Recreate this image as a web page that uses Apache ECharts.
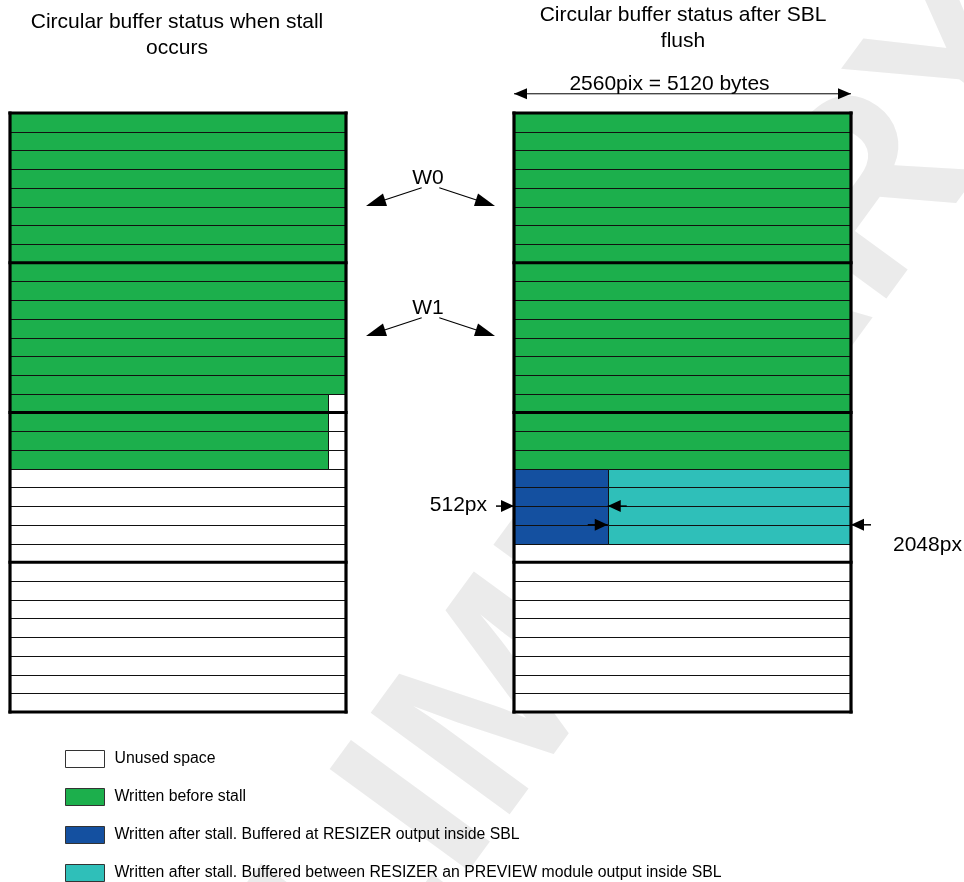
<!DOCTYPE html>
<html><head><meta charset="utf-8">
<script src="https://cdn.jsdelivr.net/npm/echarts@6/dist/echarts.min.js"></script>
<style>html,body{margin:0;padding:0;background:#fff}#c{width:964px;height:882px}</style>
</head><body><div id="c"></div>
<script>
// ---------------- data ----------------
const bufferWidthPix = 2560;            // one buffer line = 2560 pix = 5120 bytes
const rowCount = 32;
const sectionBreaks = [0, 8, 16, 24, 32];

// Left buffer: status when stall occurs (pixels written per line)
const leftWritten = [2560,2560,2560,2560,2560,2560,2560,2560,
                     2560,2560,2560,2560,2560,2560,2560,2420,
                     2420,2420,2420,0,0,0,0,0,
                     0,0,0,0,0,0,0,0];

// Right buffer: status after SBL flush
const rightWritten = [2560,2560,2560,2560,2560,2560,2560,2560,
                      2560,2560,2560,2560,2560,2560,2560,2560,
                      2560,2560,2560,0,0,0,0,0,
                      0,0,0,0,0,0,0,0];
const rightResizer = [0,0,0,0,0,0,0,0,
                      0,0,0,0,0,0,0,0,
                      0,0,0,712,712,712,712,0,
                      0,0,0,0,0,0,0,0];
const rightPreview = [0,0,0,0,0,0,0,0,
                      0,0,0,0,0,0,0,0,
                      0,0,0,1848,1848,1848,1848,0,
                      0,0,0,0,0,0,0,0];

const titleLeft = 'Circular buffer status when stall\noccurs';
const titleRight = 'Circular buffer status after SBL\nflush';
const widthLabel = '2560pix = 5120 bytes';
const resizerLabel = '512px';
const previewLabel = '2048px';
const windowLabels = ['W0', 'W1'];
const legendNames = [
  'Unused space',
  'Written before stall',
  'Written after stall. Buffered at RESIZER output inside SBL',
  'Written after stall. Buffered between RESIZER an PREVIEW module output inside SBL'
];
const keys = ['unused', 'written', 'resizer', 'preview'];
const colors = { unused: '#ffffff', written: '#1caf4c', resizer: '#1450a0', preview: '#2fbfb9' };

// ---------------- helpers ----------------
const FONT = '"Liberation Sans", Arial, Helvetica, sans-serif';
const LABEL_SIZE = 21;

function segments(written, resizer, preview) {
  const out = { unused: [], written: [], resizer: [], preview: [] };
  written.forEach((g, i) => {
    let x = 0;
    const r = resizer ? resizer[i] : 0;
    const p = preview ? preview[i] : 0;
    if (g > 0) { out.written.push([x, x + g, i]); x += g; }
    if (r > 0) { out.resizer.push([x, x + r, i]); x += r; }
    if (p > 0) { out.preview.push([x, x + p, i]); x += p; }
    if (x < bufferWidthPix) out.unused.push([x, bufferWidthPix, i]);
  });
  return out;
}

function cellRenderer(color) {
  return function (params, api) {
    const p0 = api.coord([api.value(0), api.value(2)]);
    const p1 = api.coord([api.value(1), api.value(2) + 1]);
    const x0 = Math.round(p0[0]) + 0.5, y0 = Math.round(p0[1]) + 0.5;
    const x1 = Math.round(p1[0]) + 0.5, y1 = Math.round(p1[1]) + 0.5;
    return {
      type: 'rect',
      shape: { x: x0, y: y0, width: x1 - x0, height: y1 - y0 },
      style: { fill: color, stroke: '#111', lineWidth: 1 }
    };
  };
}

function head(tx, ty, fx, fy, len, hw) {
  const dx = tx - fx, dy = ty - fy, d = Math.hypot(dx, dy);
  const ux = dx / d, uy = dy / d;
  const bx = tx - ux * len, by = ty - uy * len;
  return { type: 'polygon', shape: { points: [[tx, ty], [bx - uy * hw, by + ux * hw], [bx + uy * hw, by - ux * hw]] },
           style: { fill: '#000' } };
}
function seg(x1, y1, x2, y2, w) {
  return { type: 'line', shape: { x1, y1, x2, y2 }, style: { stroke: '#000', lineWidth: w || 1 } };
}
function txt(x, y, text, align, size) {
  return { type: 'text', x, y, style: { text, fill: '#000', fontSize: size || LABEL_SIZE, fontFamily: FONT,
           align: align || 'center', verticalAlign: 'middle' } };
}

// ---------------- series ----------------
const buffers = [
  { axis: 0, seg: segments(leftWritten) },
  { axis: 1, seg: segments(rightWritten, rightResizer, rightPreview) }
];

const series = [];
buffers.forEach(b => {
  keys.forEach((k, ki) => {
    if (!b.seg[k].length) return;
    series.push({
      type: 'custom', name: legendNames[ki], xAxisIndex: b.axis, yAxisIndex: b.axis,
      data: b.seg[k], renderItem: cellRenderer(colors[k]), itemStyle: { color: colors[k] },
      clip: false, z: 2, silent: true
    });
  });
  // thick section separators
  series.push({
    type: 'custom', xAxisIndex: b.axis, yAxisIndex: b.axis, z: 3, silent: true, clip: false,
    data: sectionBreaks.map(v => [v]),
    renderItem: function (params, api) {
      const a = api.coord([0, api.value(0)]), c = api.coord([bufferWidthPix, api.value(0)]);
      return { type: 'line', shape: { x1: a[0], y1: a[1], x2: c[0], y2: c[1] },
               style: { stroke: '#000', lineWidth: 3.2, lineCap: 'square' } };
    }
  });
  // side borders
  series.push({
    type: 'custom', xAxisIndex: b.axis, yAxisIndex: b.axis, z: 3, silent: true, clip: false,
    data: [[0], [bufferWidthPix]],
    renderItem: function (params, api) {
      const a = api.coord([api.value(0), 0]), c = api.coord([api.value(0), rowCount]);
      return { type: 'line', shape: { x1: a[0], y1: a[1], x2: c[0], y2: c[1] },
               style: { stroke: '#000', lineWidth: 3.2, lineCap: 'square' } };
    }
  });
});

// annotations on the right buffer
series.push({
  type: 'custom', xAxisIndex: 1, yAxisIndex: 1, z: 5, silent: true, clip: false,
  data: [[0]],
  renderItem: function (params, api) {
    const ch = [];
    // width arrow above buffer
    const L = api.coord([0, -1]), R = api.coord([bufferWidthPix, -1]);
    const y = L[1] - 0.5;
    ch.push(seg(L[0], y, R[0], y, 1));
    ch.push(head(L[0], y, L[0] + 10, y, 13, 5.5));
    ch.push(head(R[0], y, R[0] - 10, y, 13, 5.5));
    ch.push(txt((L[0] + R[0]) / 2 - 13, y - 10, widthLabel, 'center'));
    // 512px arrow (into buffer start)
    const a = api.coord([0, 21]);
    ch.push(seg(a[0] - 18, a[1], a[0], a[1], 1.5));
    ch.push(head(a[0], a[1], a[0] - 10, a[1], 13, 6));
    ch.push(txt(a[0] - 27, a[1] - 1, resizerLabel, 'right'));
    // arrow pointing left at resizer/preview boundary
    const b = api.coord([rightResizer[21], 21]);
    ch.push(seg(b[0], b[1], b[0] + 19, b[1], 1.5));
    ch.push(head(b[0], b[1], b[0] + 10, b[1], 13, 6));
    // arrow pointing right at resizer/preview boundary
    const c = api.coord([rightResizer[22], 22]);
    ch.push(seg(c[0] - 20, c[1], c[0], c[1], 1.5));
    ch.push(head(c[0], c[1], c[0] - 10, c[1], 13, 6));
    // arrow pointing left at buffer end
    const d = api.coord([bufferWidthPix, 22]);
    ch.push(seg(d[0], d[1], d[0] + 20, d[1], 1.5));
    ch.push(head(d[0], d[1], d[0] + 10, d[1], 13, 6));
    ch.push(txt(d[0] + 42, d[1] + 20, previewLabel, 'left'));
    return { type: 'group', children: ch };
  }
});

// ---------------- watermark + W0 / W1 arrows (between buffers) ----------------
const graphicEls = [{
  type: 'text', x: 515, y: 690, rotation: 0.94, z: 0, silent: true,
  style: { text: 'PRELIMINARY', fontSize: 250, fontWeight: 'bold', fontFamily: FONT, fill: '#ebebeb',
           align: 'center', verticalAlign: 'middle' }
}];
[[178, windowLabels[0]], [308, windowLabels[1]]].forEach(([cy, label]) => {
  const sy = cy + 9.7, ty = cy + 28;
  graphicEls.push({ type: 'group', z: 10, children: [
    txt(428, cy, label, 'center'),
    seg(421.7, sy, 380, ty - 4.5, 1.2),
    head(366, ty, 421.7, sy, 20, 6.5),
    seg(439.3, sy, 481, ty - 4.5, 1.2),
    head(495, ty, 439.3, sy, 20, 6.5)
  ]});
});

const chart = echarts.init(document.getElementById('c'), null, { renderer: 'canvas' });
chart.setOption({
  animation: false,
  backgroundColor: '#ffffff',
  textStyle: { fontFamily: FONT },
  title: [
    { text: titleLeft, left: 177, top: 9, textAlign: 'center', padding: 0,
      textStyle: { fontSize: LABEL_SIZE, fontWeight: 'normal', color: '#000', lineHeight: 26, fontFamily: FONT } },
    { text: titleRight, left: 683, top: 2, textAlign: 'center', padding: 0,
      textStyle: { fontSize: LABEL_SIZE, fontWeight: 'normal', color: '#000', lineHeight: 26, fontFamily: FONT } }
  ],
  legend: {
    orient: 'vertical', left: 65, top: 750, padding: 0,
    itemWidth: 39, itemHeight: 17, itemGap: 20, icon: 'rect', selectedMode: false,
    data: legendNames,
    itemStyle: { borderColor: '#333', borderWidth: 1 },
    textStyle: { fontSize: 15.8, color: '#000', fontFamily: FONT, padding: [0, 0, 0, 5] }
  },
  grid: [
    { left: 10, top: 113, width: 336, height: 599 },
    { left: 514, top: 113, width: 337, height: 599 }
  ],
  xAxis: [
    { type: 'value', gridIndex: 0, min: 0, max: bufferWidthPix, show: false },
    { type: 'value', gridIndex: 1, min: 0, max: bufferWidthPix, show: false }
  ],
  yAxis: [
    { type: 'value', gridIndex: 0, min: 0, max: rowCount, inverse: true, show: false },
    { type: 'value', gridIndex: 1, min: 0, max: rowCount, inverse: true, show: false }
  ],
  graphic: graphicEls,
  series: series
});
</script>
</body></html>
